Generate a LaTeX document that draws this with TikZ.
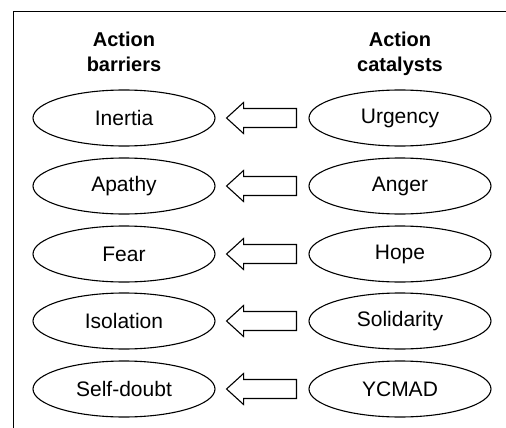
\documentclass[tikz,border=0pt]{standalone}
\usepackage{fontspec}
\setmainfont{Liberation Sans}
\usetikzlibrary{shapes.geometric,calc}
\begin{document}
\begin{tikzpicture}[x=1pt,y=-1pt,
  oval/.style={draw, line width=1.1pt, ellipse, minimum width=182pt, minimum height=56pt, inner sep=0pt, font=\fontsize{21}{24}\selectfont},
  head/.style={anchor=base, font=\fontsize{20}{24}\selectfont\bfseries},
  blockarrow/.style={draw, line width=1.1pt, line join=miter},
  frame/.style={draw, line width=1.4pt}]
\useasboundingbox (0,0) rectangle (506,428);
\draw[frame] (13.5,428) -- (13.5,11.5) -- (506,11.5);
\node[head] (h1) at (124,47) {Action};
\node[head] (h2) at (124,71) {barriers};
\node[head] (h3) at (400,47) {Action};
\node[head] (h4) at (400,71) {catalysts};
\foreach \y/\a/\b [count=\i] in {118/Inertia/Urgency, 186/Apathy/Anger, 254/Fear/Hope, 321/Isolation/Solidarity, 389/Self-doubt/YCMAD} {
  \node[oval] (L\i) at (124,\y) {\a};
  \node[oval] (R\i) at (400,\y) {\b};
  \draw[blockarrow] ($(L\i.east)+(11,0)$) -- ++(17,-15.5) -- ++(0,6) -- ($(R\i.west)+(-12,-9.5)$) -- ++(0,19) -- ($(L\i.east)+(28,9.5)$) -- ++(0,6) -- cycle;
}
\end{tikzpicture}
\end{document}
